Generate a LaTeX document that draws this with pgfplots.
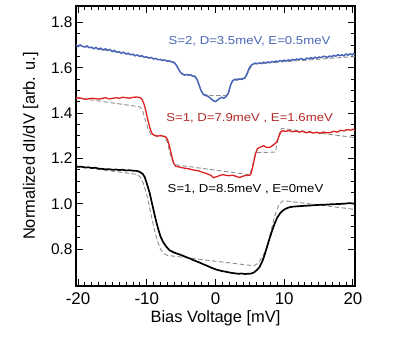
\documentclass[border=0pt]{standalone}
\usepackage{pgfplots}
\pgfplotsset{compat=1.18}
\usepackage{fontspec}
\setmainfont{Liberation Sans}
\newfontfamily\annfont[FakeStretch=1.15]{Liberation Sans}

\definecolor{sblue}{RGB}{72,102,184}
\definecolor{sred}{RGB}{222,32,32}
\definecolor{tred}{RGB}{178,40,40}
\definecolor{fitgray}{RGB}{140,140,140}

\begin{document}
\begin{tikzpicture}
\begin{axis}[
    scale only axis,
    width=279bp, height=280bp,
    xmin=-20.3, xmax=20.3,
    ymin=0.637, ymax=1.873,
    xtick={-20,-10,0,10,20},
    ytick={0.8,1.0,1.2,1.4,1.6,1.8},
    minor x tick num=9,
    minor y tick num=3,
    tick align=inside,
    major tick length=7bp,
    minor tick length=4bp,
    axis line style={line width=1.1pt},
    every tick/.style={line width=0.9pt, black},
    /pgf/number format/assume math mode=true,
    yticklabel style={/pgf/number format/fixed, /pgf/number format/fixed zerofill,
        /pgf/number format/precision=1, font=\fontsize{15.5}{17}\selectfont},
    xticklabel style={font=\fontsize{17}{19}\selectfont},
    xticklabel shift=3bp,
    label style={font=\fontsize{16.5}{19}\selectfont},
    xlabel style={yshift=1bp},
    ylabel shift=6bp,
    xlabel={Bias Voltage [mV]},
    ylabel={Normalized dI/dV [arb. u.]},
    clip=false,
]
% fits (grey dashed)
\addplot[fitgray, line width=0.9pt, dash pattern=on 4.5pt off 2.5pt] coordinates {
(-20.3,1.700) (-6.0,1.626) (-5.6,1.610) (-5.2,1.585) (-4.8,1.572) (-3.0,1.565)
(-2.6,1.545) (-2.2,1.505) (-1.8,1.484) (-0.6,1.478) (1.6,1.478) (2.0,1.505)
(2.4,1.540) (2.8,1.550) (4.4,1.556) (4.8,1.585) (5.2,1.606) (5.6,1.617) (20.3,1.650)
};
\addplot[fitgray, line width=0.9pt, dash pattern=on 4.5pt off 2.5pt] coordinates {
(-20.3,1.468) (-11.0,1.428) (-10.6,1.410) (-10.2,1.370) (-9.8,1.330) (-9.4,1.305)
(-7.4,1.298) (-7.0,1.270) (-6.6,1.220) (-6.2,1.185) (-5.8,1.172) (5.0,1.128)
(5.3,1.160) (5.7,1.205) (6.1,1.226) (8.7,1.228) (9.0,1.270) (9.3,1.310)
(9.6,1.333) (20.3,1.292)
};
\addplot[fitgray, line width=0.9pt, dash pattern=on 4.5pt off 2.5pt] coordinates {
(-20.3,1.165) (-11.5,1.130) (-11.0,1.120) (-10.5,1.090) (-10.0,1.040) (-9.5,0.970)
(-9.0,0.900) (-8.5,0.840) (-8.0,0.800) (-7.5,0.780) (-7.0,0.772) (5.6,0.726)
(6.2,0.738) (6.8,0.765) (7.4,0.800) (8.0,0.870) (8.6,0.945) (9.2,0.995)
(9.8,1.013) (10.4,1.012) (20.3,0.975)
};
% S=2, D=3.5meV, E=0.5meV
\addplot[sblue, line width=1.5pt] coordinates {
(-20.3,1.701) (-20.0,1.694) (-19.7,1.702) (-19.4,1.695) (-19.0,1.692) (-18.7,1.697)
(-18.4,1.689) (-18.0,1.691) (-17.7,1.684) (-17.4,1.690) (-17.0,1.682) (-16.7,1.687)
(-16.4,1.679) (-16.0,1.684) (-15.7,1.677) (-15.4,1.681) (-15.0,1.672) (-14.7,1.677)
(-14.4,1.669) (-14.0,1.671) (-13.7,1.664) (-13.4,1.669) (-13.0,1.661) (-12.7,1.665)
(-12.4,1.658) (-12.0,1.660) (-11.7,1.653) (-11.4,1.657) (-11.0,1.650) (-10.7,1.654)
(-10.4,1.647) (-10.0,1.648) (-9.7,1.643) (-9.4,1.646) (-9.0,1.639) (-8.7,1.642)
(-8.4,1.636) (-8.0,1.637) (-7.7,1.632) (-7.4,1.635) (-7.0,1.629) (-6.7,1.631)
(-6.4,1.626) (-6.0,1.622) (-5.7,1.612) (-5.4,1.595) (-5.1,1.580) (-4.8,1.572)
(-4.5,1.568) (-4.2,1.571) (-3.9,1.567) (-3.6,1.569) (-3.3,1.563) (-3.0,1.561)
(-2.7,1.550) (-2.4,1.525) (-2.1,1.500) (-1.8,1.484) (-1.5,1.478) (-1.2,1.476)
(-0.9,1.470) (-0.6,1.462) (-0.3,1.455) (0.0,1.451) (0.3,1.458) (0.6,1.465)
(0.9,1.470) (1.2,1.466) (1.5,1.472) (1.9,1.490) (2.2,1.525) (2.5,1.543)
(2.8,1.549) (3.1,1.546) (3.5,1.551) (3.8,1.549) (4.1,1.553) (4.3,1.556)
(4.6,1.575) (4.9,1.598) (5.2,1.612) (5.5,1.617) (5.8,1.621) (6.1,1.618)
(6.4,1.622) (6.7,1.619) (7.0,1.625) (7.3,1.621) (7.6,1.626) (7.9,1.623)
(8.2,1.628) (8.5,1.625) (8.8,1.630) (9.1,1.627) (9.4,1.632) (9.7,1.629)
(10.0,1.634) (10.3,1.630) (10.6,1.635) (10.9,1.632) (11.2,1.637) (11.5,1.634)
(11.8,1.639) (12.1,1.636) (12.4,1.641) (12.7,1.638) (13.0,1.636) (13.3,1.643)
(13.6,1.640) (13.9,1.645) (14.2,1.641) (14.5,1.647) (14.8,1.643) (15.1,1.648)
(15.4,1.645) (15.7,1.651) (16.0,1.649) (16.3,1.646) (16.6,1.652) (16.9,1.649)
(17.2,1.655) (17.5,1.651) (17.8,1.658) (18.1,1.654) (18.4,1.657) (18.7,1.653)
(19.0,1.661) (19.3,1.656) (19.6,1.662) (19.9,1.657) (20.1,1.663) (20.3,1.658)
};
% S=1, D=7.9meV, E=1.6meV
\addplot[sred, line width=1.3pt] coordinates {
(-20.3,1.462) (-20.0,1.468) (-19.5,1.466) (-19.0,1.461) (-18.5,1.463) (-18.0,1.466)
(-17.5,1.464) (-17.0,1.462) (-16.5,1.465) (-16.0,1.468) (-15.5,1.463) (-15.0,1.465)
(-14.5,1.468) (-14.0,1.466) (-13.5,1.470) (-13.0,1.468) (-12.5,1.466) (-12.0,1.470)
(-11.5,1.471) (-11.0,1.469) (-10.7,1.462) (-10.4,1.440) (-10.1,1.405) (-9.8,1.365)
(-9.5,1.330) (-9.2,1.308) (-8.9,1.302) (-8.5,1.298) (-8.0,1.301) (-7.6,1.298)
(-7.3,1.296) (-7.0,1.285) (-6.7,1.255) (-6.4,1.215) (-6.1,1.180) (-5.8,1.166)
(-5.4,1.163) (-5.0,1.160) (-4.5,1.157) (-4.0,1.155) (-3.5,1.151) (-3.0,1.148)
(-2.5,1.146) (-2.0,1.140) (-1.5,1.135) (-1.0,1.130) (-0.6,1.124) (-0.3,1.115)
(0.0,1.118) (0.4,1.122) (0.8,1.127) (1.2,1.128) (1.6,1.125) (2.0,1.124)
(2.5,1.126) (3.0,1.121) (3.5,1.116) (4.0,1.122) (4.5,1.125) (5.0,1.126)
(5.2,1.135) (5.5,1.175) (5.8,1.220) (6.1,1.243) (6.5,1.250) (7.0,1.256)
(7.5,1.248) (8.0,1.250) (8.5,1.262) (8.9,1.272) (9.2,1.295) (9.5,1.318)
(9.8,1.322) (10.2,1.320) (10.7,1.323) (11.2,1.318) (11.7,1.321) (12.2,1.316)
(12.7,1.320) (13.2,1.313) (13.7,1.318) (14.2,1.312) (14.7,1.316) (15.2,1.311)
(15.7,1.317) (16.2,1.313) (16.7,1.314) (17.2,1.320) (17.7,1.316) (18.2,1.324)
(18.7,1.322) (19.2,1.327) (19.7,1.325) (20.0,1.329) (20.3,1.324)
};
% S=1, D=8.5meV, E=0meV
\addplot[black, line width=1.7pt] coordinates {
(-20.3,1.165) (-20.0,1.163) (-19.5,1.164) (-19.0,1.160) (-18.5,1.161) (-18.0,1.158)
(-17.5,1.159) (-17.0,1.155) (-16.5,1.154) (-16.0,1.152) (-15.5,1.153) (-15.0,1.150)
(-14.5,1.151) (-14.0,1.149) (-13.5,1.150) (-13.0,1.147) (-12.5,1.148) (-12.0,1.146)
(-11.5,1.145) (-11.2,1.143) (-10.9,1.138) (-10.6,1.132) (-10.3,1.118) (-10.0,1.090)
(-9.6,1.050) (-9.3,1.010) (-9.0,0.970) (-8.6,0.918) (-8.3,0.885) (-8.0,0.855)
(-7.6,0.830) (-7.2,0.812) (-6.7,0.795) (-6.2,0.787) (-5.7,0.781) (-5.2,0.776)
(-4.7,0.770) (-4.2,0.764) (-3.7,0.758) (-3.2,0.751) (-2.7,0.745) (-2.2,0.739)
(-1.7,0.732) (-1.2,0.726) (-0.7,0.719) (-0.2,0.713) (0.3,0.708) (0.8,0.704)
(1.3,0.701) (1.8,0.698) (2.3,0.695) (2.8,0.693) (3.3,0.691) (3.8,0.692)
(4.3,0.690) (4.8,0.691) (5.2,0.692) (5.6,0.697) (6.0,0.707) (6.4,0.720)
(6.8,0.745) (7.1,0.770) (7.4,0.800) (7.8,0.840) (8.2,0.878) (8.6,0.912)
(9.0,0.940) (9.4,0.958) (9.8,0.970) (10.2,0.978) (10.7,0.984) (11.2,0.987)
(12.0,0.989) (13.0,0.991) (14.0,0.993) (15.0,0.995) (16.0,0.996) (17.0,0.998)
(18.0,0.999) (19.0,1.001) (19.5,1.003) (20.0,1.001) (20.3,1.000)
};
\node[font=\annfont\fontsize{11.5}{13}\selectfont, text=sblue] at (axis cs:4.95,1.717) {S=2, D=3.5meV, E=0.5meV};
\node[font=\annfont\fontsize{11.5}{13}\selectfont, text=tred] at (axis cs:4.96,1.379) {S=1, D=7.9meV , E=1.6meV};
\node[font=\annfont\fontsize{11.5}{13}\selectfont, text=black] at (axis cs:4.37,1.062) {S=1, D=8.5meV , E=0meV};
\coordinate (sw) at (rel axis cs:0,0);
\coordinate (ne) at (rel axis cs:1,1);
\end{axis}
\pgfresetboundingbox
\path[use as bounding box] ([shift={(-76bp,-56bp)}]sw) rectangle ([shift={(39bp,6bp)}]ne);
\end{tikzpicture}
\end{document}
